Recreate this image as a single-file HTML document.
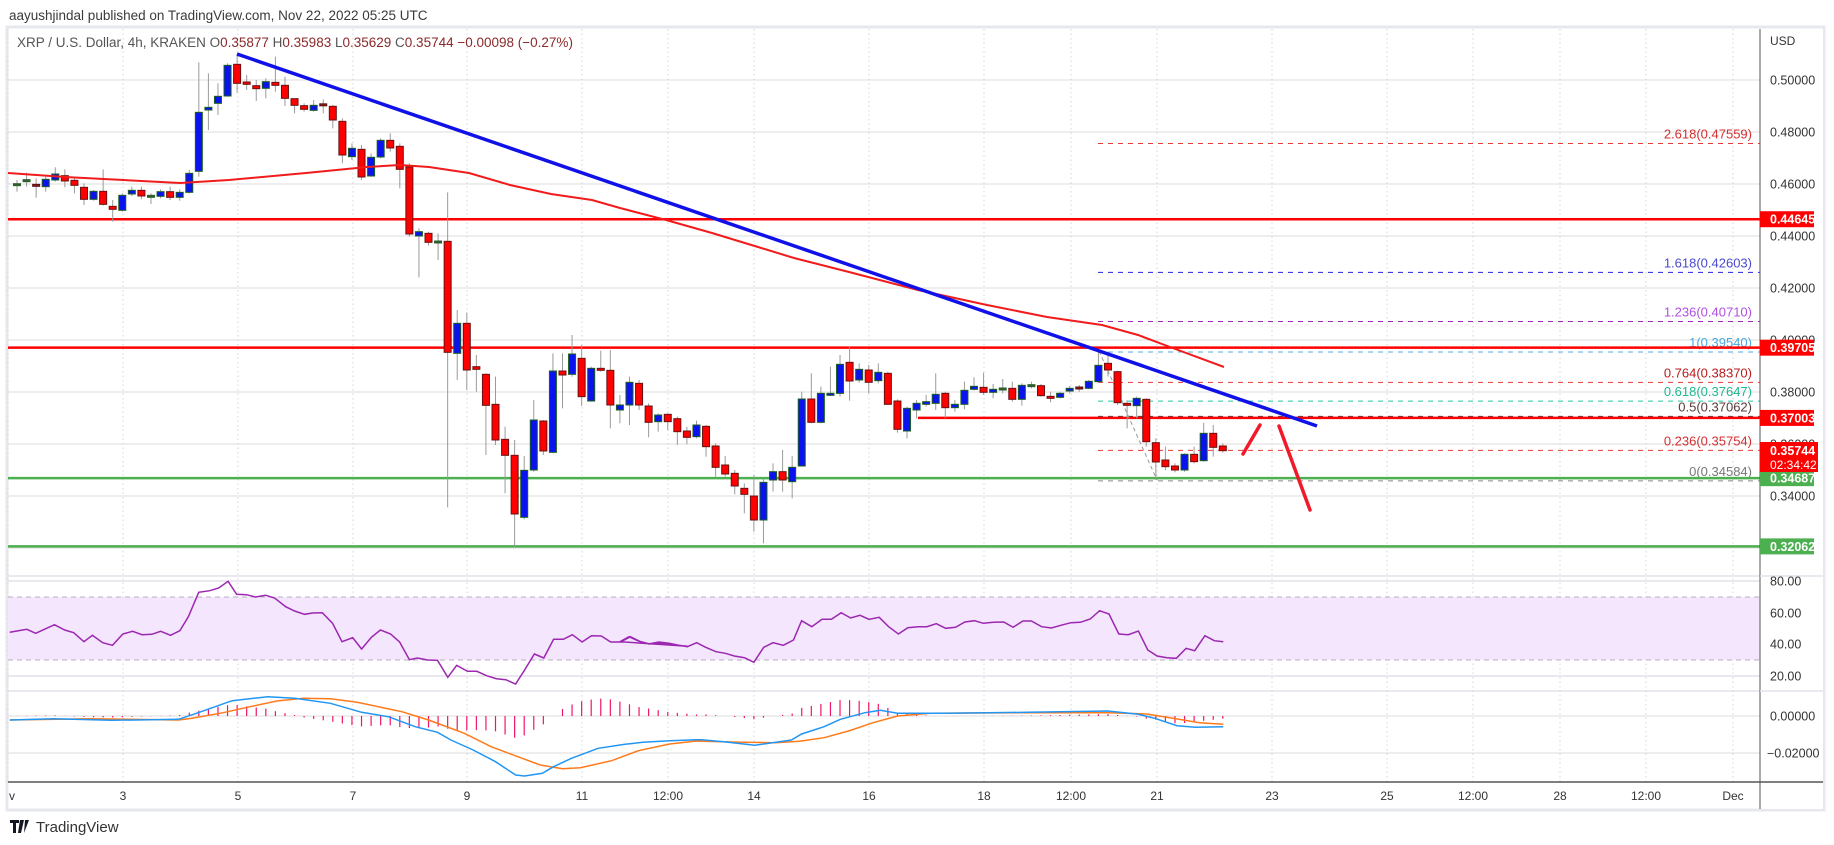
<!DOCTYPE html>
<html><head><meta charset="utf-8">
<style>
html,body{margin:0;padding:0;background:#fff;}
svg{display:block;font-family:"Liberation Sans",sans-serif;}
</style></head>
<body>
<svg id="s" width="1834" height="845" viewBox="0 0 1834 845" xmlns="http://www.w3.org/2000/svg">
<rect width="1834" height="845" fill="#fff"/>
<text x="9" y="20" font-size="13.5" fill="#3a3a3a">aayushjindal published on TradingView.com, Nov 22, 2022 05:25 UTC</text>
<rect x="7" y="27" width="1817" height="783" fill="none" stroke="#e6e8ee" stroke-width="3"/>
<g id="grid"></g>
<rect x="8" y="597" width="1752" height="63" fill="#f3e6fd"/>
<g id="g2"></g>
<text x="17" y="47" font-size="13.5" fill="#555">XRP / U.S. Dollar, 4h, KRAKEN <tspan fill="#555"> O</tspan><tspan fill="#8a2a2a">0.35877</tspan><tspan fill="#555">  H</tspan><tspan fill="#8a2a2a">0.35983</tspan><tspan fill="#555">  L</tspan><tspan fill="#8a2a2a">0.35629</tspan><tspan fill="#555">  C</tspan><tspan fill="#8a2a2a">0.35744  −0.00098 (−0.27%)</tspan></text>
<g transform="translate(10,818)">
<path d="M0 2h9v3h-3v10h-3v-10h-3z M10 2h4l-3 13h-3z M15 2h4l-5 13z" fill="#131722"/>
<text x="26" y="14" font-size="15" fill="#333">TradingView</text>
</g>
</svg>
<script>
const S=document.getElementById('s'),G=document.getElementById('grid'),G2=document.getElementById('g2');
const NS='http://www.w3.org/2000/svg';
function el(p,t,a,txt){const e=document.createElementNS(NS,t);for(const k in a)e.setAttribute(k,a[k]);if(txt!==undefined)e.textContent=txt;p.appendChild(e);return e;}
const py=p=>80+(0.5-p)*2600;
// horizontal grid
for(let v=0.50;v>=0.335;v-=0.02){el(G,'line',{x1:8,x2:1760,y1:py(v),y2:py(v),stroke:'#dcdcdc','stroke-width':1});}
el(G,'line',{x1:8,x2:1760,y1:548,y2:548,stroke:'#dcdcdc'});
[581,613,644,676].forEach(y=>el(G,'line',{x1:8,x2:1760,y1:y,y2:y,stroke:'#d6d0dc'}));
[716,753].forEach(y=>el(G,'line',{x1:8,x2:1760,y1:y,y2:y,stroke:'#dcdcdc'}));
[576,691].forEach(y=>el(G,'line',{x1:8,x2:1823,y1:y,y2:y,stroke:'#e0e3eb','stroke-width':1.5}));
const dx=[8,123,238,353,467,582,668,754,869,984,1071,1157,1272,1387,1473,1560,1646,1733];
dx.forEach(x=>el(G,'line',{x1:x,x2:x,y1:29,y2:782,stroke:'#d4d4d4','stroke-dasharray':'1.5,3'}));
const dl=['v','3','5','7','9','11','12:00','14','16','18','12:00','21','23','25','12:00','28','12:00','Dec'];
dx.forEach((x,i)=>el(S,'text',{x:i==0?9:x,y:800,'font-size':12,fill:'#333','text-anchor':i==0?'start':'middle'},dl[i]));
// RSI band dashed
[597,660].forEach(y=>el(G2,'line',{x1:8,x2:1760,y1:y,y2:y,stroke:'#b8b0c0','stroke-dasharray':'5,4'}));
// horizontal levels
const L=(p,c,w,x1)=>el(G2,'line',{x1:x1||8,x2:1760,y1:py(p),y2:py(p),stroke:c,'stroke-width':w});
// fib
const fib=[['2.618(0.47559)',0.47559,'#e53935','#d32f2f'],['1.618(0.42603)',0.42603,'#2222dd','#4a4ad0'],['1.236(0.40710)',0.40710,'#9c27b0','#b050e0'],['1(0.39540)',0.39540,'#55aadd','#4aa8e0'],['0.764(0.38370)',0.38370,'#e53935','#b71c1c'],['0.618(0.37647)',0.37647,'#26c6a0','#20b890'],['0.5(0.37062)',0.37062,'#444','#5a3a3a'],['0.236(0.35754)',0.35754,'#e53935','#d32f2f'],['0(0.34584)',0.34584,'#888','#777']];
fib.forEach(f=>{const y=py(f[1]);el(G2,'line',{x1:1098,x2:1760,y1:y,y2:y,stroke:f[2],'stroke-width':1,'stroke-dasharray':'5,5'});el(G2,'text',{x:1752,y:y-5,'font-size':13,fill:f[3],'text-anchor':'end'},f[0]);});
L(0.44645,'#ff0000',2.5);L(0.39705,'#ff0000',2.5);L(0.37003,'#ff0000',2.5,918);
L(0.34687,'#4caf50',2.5);L(0.32062,'#4caf50',2.5);
// gray diagonal
el(G2,'line',{x1:1099,y1:351,x2:1157,y2:480,stroke:'#999','stroke-dasharray':'4,3'});
// candles
const C=[['d',464,464,450,485],['d',452,452,428,470],['x',466,466,445,503],['b',448,470,440,485],['b',432,450,412,455],['r',437,453,418,472],['r',451,466,445,490],['r',472,508,460,525],['b',484,508,480,512],['r',484,523,418,527],['r',529,538,510,575],['b',496,541,490,545],['b',481,492,470,498],['r',481,498,470,508],['d',499,499,490,522],['b',485,499,478,505],['r',485,502,470,510],['b',487,502,478,512],['b',430,487,420,490],['b',247,424,97,440],['b',232,240,130,300],['b',199,220,160,255],['b',106,198,100,200],['r',103,160,75,188],['r',156,163,135,180],['r',167,176,150,213],['b',155,175,145,205],['r',157,166,80,185],['r',166,205,140,228],['r',206,226,205,250],['r',227,238,220,245],['b',226,241,210,245],['x',223,226,208,250],['r',229,270,225,295],['r',274,375,265,400],['b',355,380,340,390],['r',358,441,345,450],['b',382,438,370,440],['b',331,381,325,385],['r',331,354,310,365],['r',349,418,340,475],['r',411,612,400,620],['b',605,618,595,742],['r',610,637,605,647],['d',636,636,610,690],['r',634,967,487,1432],['b',880,970,840,1050],['r',880,1020,848,1080],['r',1010,1018,975,1085],['r',1033,1126,1030,1275],['r',1123,1230,1040,1245],['r',1228,1276,1190,1390],['r',1276,1452,1230,1550],['b',1321,1462,1278,1468],['b',1170,1320,1110,1325],['r',1173,1263,1170,1275],['b',1023,1267,970,1270],['r',1023,1035,970,1135],['b',972,1033,915,1040],['r',985,1100,945,1128],['b',1015,1113,1010,1115],['r',1015,1021,962,1025],['r',1021,1125,960,1195],['b',1125,1140,1095,1180],['b',1057,1125,1040,1185],['r',1060,1125,1050,1140],
['r',1128,1177,1120,1222],['b',1155,1175,1150,1205],['r',1153,1175,1150,1200],['r',1166,1205,1160,1245],['r',1203,1222,1190,1243],['b',1185,1220,1172,1225],['r',1189,1250,1185,1280],['r',1248,1312,1240,1340],['r',1305,1332,1278,1340],['r',1330,1368,1320,1393],['r',1375,1393,1360,1450],['r',1398,1470,1335,1505],['b',1357,1470,1345,1540],['b',1325,1350,1300,1385],['r',1325,1350,1260,1385],['b',1312,1355,1278,1405],['b',1107,1308,1085,1310],['r',1107,1177,1030,1180],['b',1090,1177,1070,1180],['b',1090,1096,1010,1098],['b',1003,1090,975,1100],['r',997,1053,950,1112],['b',1018,1050,1000,1058],['r',1020,1057,1005,1090],['b',1027,1052,1000,1060],['r',1030,1123,1025,1125],['r',1113,1198,1108,1208],['b',1135,1203,1130,1225],['b',1120,1140,1110,1165],['b',1115,1123,1095,1130],['b',1093,1120,1030,1140],['r',1090,1133,1085,1165],['b',1123,1133,1110,1145],['b',1081,1123,1055,1138],['b',1069,1078,1042,1082],['r',1072,1087,1028,1095],['b',1078,1087,1062,1105],['d',1077,1077,1047,1090],['r',1075,1108,1055,1115],['b',1066,1108,1060,1127],['d',1067,1067,1055,1075],['r',1067,1097,1062,1100],['r',1099,1105,1085,1117],['b',1090,1102,1085,1105],['b',1075,1083,1068,1090],['x',1072,1076,1065,1085],['b',1054,1075,1050,1078],['b',1006,1055,962,1058],['r',1000,1020,975,1040],['r',1025,1118,1022,1125],['r',1120,1126,1110,1195],['b',1105,1127,1100,1165],['r',1108,1235,1105,1250],['r',1238,1296,1225,1350],['r',1290,1310,1250,1320],['r',1308,1320,1300,1327],['b',1273,1320,1270,1325],['r',1273,1295,1250,1300],['b',1210,1292,1178,1295],['r',1210,1252,1185,1280],['r',1248,1262,1240,1268]];
const Y=v=>30+v/3;
C.forEach((c,i)=>{const x=17+i*9.57;
 el(G2,'line',{x1:x,x2:x,y1:Y(c[3]),y2:Y(c[4]),stroke:'#9a9a9a','stroke-width':1});
 let t=Y(c[1]),b=Y(c[2]);if(b-t<2){const m=(t+b)/2;t=m-1;b=m+1;}
 let fill,st;
 if(c[0]=='b'){fill='#0a12f0';st='#1b5e20';}else if(c[0]=='r'){fill='#ff0000';st='#6b1010';}else if(c[0]=='d'){fill='#2e5e2e';st='#2e5e2e';}else{fill='#8b1a1a';st='#5b1010';}
 el(G2,'rect',{x:x-3.5,y:t,width:7,height:b-t,fill:fill,stroke:st,'stroke-width':1});
});
// MA
const ma=[[8,173],[65,177],[180,183],[229,180],[306,173],[367,167],[400,165],[429,167],[469,173],[510,185],[551,194],[592,200],[620,208],[666,220],[712,233],[758,247],[794,258],[849,272],[918,290],[987,305],[1047,317],[1102,325],[1138,335],[1170,347],[1224,367]];
el(G2,'polyline',{points:ma.map(p=>p.join(',')).join(' '),fill:'none',stroke:'#f21b1b','stroke-width':2});
// trend
el(G2,'line',{x1:237,y1:54,x2:1317,y2:426,stroke:'#1010e8','stroke-width':3.5});
// arrows
el(G2,'line',{x1:1243,y1:454,x2:1260,y2:425,stroke:'#f01a2a','stroke-width':3.5,'stroke-linecap':'round'});
el(G2,'line',{x1:1279,y1:426,x2:1310,y2:510,stroke:'#f01a2a','stroke-width':3.5,'stroke-linecap':'round'});
// RSI
const r1=[[22,427],[60,418],[80,430],[122,404],[145,420],[165,428],[188,455],[207,436],[230,458],[252,466],[275,432],[297,424],[318,434],[340,433],[360,424],[382,436],[403,422],[422,380],[445,307],[470,302],[490,294],[511,274],[530,313],[552,314],[572,321],[595,316],[615,324],[640,350],[660,363],[682,373],[700,369],[722,368],[745,400],[766,455],[790,443],[810,477],[832,442],[852,420],[875,432],[895,456],[917,509],[935,504],[958,510],[980,511],[1003,562],[1023,526],[1047,544],[1068,544],[1090,557],[1112,566],[1133,569],[1155,582],[1175,540],[1197,492],[1218,504],[1240,448],[1262,448],[1282,434],[1304,456],[1325,437],[1347,438],[1368,456],[1390,456],[1412,440],[1433,454],[1455,462],[1475,458],[1497,461],[1518,466],[1540,469]].map(p=>[p[0]/2.24,490+p[1]/3]);
const r2=[[0,215],[22,200],[45,213],[70,222],[95,216],[120,220],[145,226],[165,230],[188,218],[210,232],[235,245],[258,250],[280,258],[305,263],[328,277],[352,232],[375,218],[400,226],[425,210],[445,152],[470,170],[495,148],[518,148],[542,128],[565,144],[588,136],[610,148],[635,142],[658,170],[682,192],[705,173],[730,170],[752,170],[775,161],[798,175],[822,172],[845,156],[868,152],[890,160],[915,157],[940,156],[963,172],[987,153],[1008,153],[1033,170],[1057,174],[1080,166],[1105,158],[1128,157],[1152,147],[1175,122],[1198,132],[1222,192],[1245,194],[1270,183],[1293,240],[1316,258],[1340,263],[1363,265],[1387,235],[1408,242],[1433,197],[1456,212],[1478,215]].map(p=>[620+p[0]/2.45,570+p[1]/3]);
el(G2,'polyline',{points:r1.concat(r2).map(p=>p[0].toFixed(1)+','+p[1].toFixed(1)).join(' '),fill:'none',stroke:'#9c27b0','stroke-width':1.5});
// MACD
const b1=[[22,690],[120,686],[250,691],[400,688],[440,670],[520,632],[600,620],[660,625],[740,640],[810,667],[870,680],[930,710],[980,727],[1010,750],[1060,780],[1110,815],[1155,855],[1175,858],[1215,850],[1240,830],[1280,805],[1340,775],[1400,763],[1440,757],[1500,752],[1560,749]].map(p=>[p[0]/2.24,490+p[1]/3]);
const b2=[[200,509],[260,516],[330,526],[420,510],[445,492],[500,470],[540,448],[600,428],[638,421],[680,430],[800,430],[1000,427],[1195,423],[1270,433],[1310,445],[1365,467],[1410,472],[1478,470]].map(p=>[620+p[0]/2.45,570+p[1]/3]);
const o1=[[22,690],[200,686],[400,690],[430,685],[500,668],[560,650],[620,633],[680,625],[740,626],[800,637],[900,665],[960,690],[1040,730],[1100,770],[1160,800],[1210,825],[1260,836],[1300,833],[1370,812],[1430,782],[1500,762],[1560,753]].map(p=>[p[0]/2.24,490+p[1]/3]);
const o2=[[200,514],[300,517],[380,518],[440,514],[500,503],[560,483],[620,458],[680,438],[760,430],[1000,428],[1200,428],[1290,432],[1340,442],[1420,458],[1478,463]].map(p=>[620+p[0]/2.45,570+p[1]/3]);
const BL=b1.concat(b2),OL=o1.concat(o2);
function interp(A,x){if(x<=A[0][0])return A[0][1];for(let i=1;i<A.length;i++){if(x<=A[i][0]){const t=(x-A[i-1][0])/(A[i][0]-A[i-1][0]);return A[i-1][1]+t*(A[i][1]-A[i-1][1]);}}return A[A.length-1][1];}
for(let i=0;i<127;i++){const x=17+i*9.57;const h=1.15*(interp(OL,x)-interp(BL,x));
 el(G2,'line',{x1:x,x2:x,y1:716,y2:716-h,stroke:'#f0156a','stroke-width':1.2});}
el(G2,'polyline',{points:OL.map(p=>p[0].toFixed(1)+','+p[1].toFixed(1)).join(' '),fill:'none',stroke:'#ff7a1a','stroke-width':1.5});
el(G2,'polyline',{points:BL.map(p=>p[0].toFixed(1)+','+p[1].toFixed(1)).join(' '),fill:'none',stroke:'#2196f3','stroke-width':1.5});
// axes
el(S,'rect',{x:1761,y:29,width:62,height:780,fill:'#fff'});
el(S,'line',{x1:1760,x2:1760,y1:29,y2:809,stroke:'#555','stroke-width':1});
el(S,'line',{x1:8,x2:1823,y1:782,y2:782,stroke:'#555','stroke-width':1.5});
[576,691].forEach(y=>el(S,'line',{x1:1760,x2:1823,y1:y,y2:y,stroke:'#e0e3eb','stroke-width':1.5}));
el(S,'text',{x:1770,y:45,'font-size':12,fill:'#333'},'USD');
for(let k=0;k<9;k++){const v=0.50-0.02*k;el(S,'text',{x:1770,y:py(v)+4.5,'font-size':12.5,fill:'#333'},v.toFixed(5));}
[[80,581],[60,613],[40,644],[20,676]].forEach(a=>el(S,'text',{x:1770,y:a[1]+4.5,'font-size':12.5,fill:'#333'},a[0].toFixed(2)));
el(S,'text',{x:1770,y:720.5,'font-size':12.5,fill:'#333'},'0.00000');
el(S,'text',{x:1767,y:757.5,'font-size':12.5,fill:'#333'},'−0.02000');
const box=(p,c,t)=>{const y=py(p);el(S,'rect',{x:1760,y:y-8,width:54,height:16,fill:c});el(S,'text',{x:1770,y:y+4.5,'font-size':12.5,'font-weight':'bold',fill:'#fff'},t);};
box(0.44645,'#ff0000','0.44645');box(0.39705,'#ff0000','0.39705');box(0.37003,'#ff0000','0.37003');
box(0.34687,'#4caf50','0.34687');box(0.32062,'#4caf50','0.32062');
el(S,'rect',{x:1760,y:442,width:58,height:30,fill:'#ff0000'});
el(S,'text',{x:1770,y:455,'font-size':12.5,'font-weight':'bold',fill:'#fff'},'0.35744');
el(S,'text',{x:1770,y:469,'font-size':12,fill:'#fff'},'02:34:42');
</script>
</body></html>
